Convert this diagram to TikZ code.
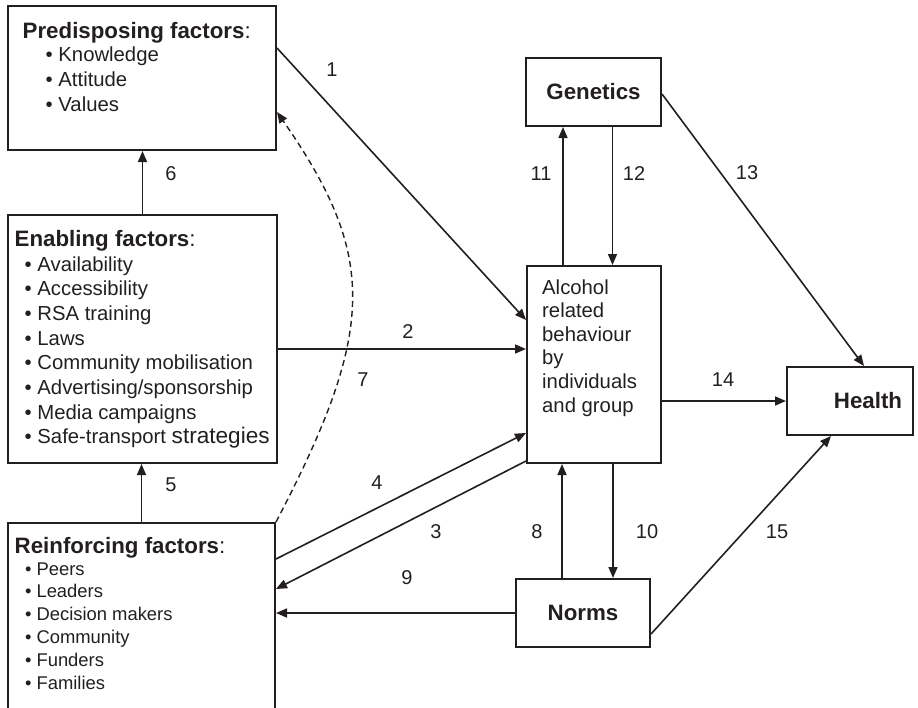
\documentclass[tikz,border=0pt]{standalone}
\usepackage{fontspec}
\setmainfont{Liberation Sans}
\usetikzlibrary{arrows.meta,calc}
\definecolor{ink}{HTML}{231F20}
\begin{document}
\begin{tikzpicture}[x=1pt,y=-1pt,
  box/.style={draw=ink, line width=2pt, rectangle, inner sep=0pt, text=ink,
    font=\fontsize{22.3}{26}\selectfont\bfseries},
  conn/.style={draw=ink, line width=1.6pt, -{Triangle[length=11pt,width=9pt]}},
  lbl/.style={font=\fontsize{20}{24}\selectfont, text=ink, inner sep=0pt},
  title/.style={font=\fontsize{22.3}{26}\selectfont\bfseries, text=ink, anchor=base west, inner sep=0pt},
  item/.style={font=\fontsize{20.3}{24}\selectfont, text=ink, anchor=base west, inner sep=0pt},
  smallitem/.style={font=\fontsize{18.4}{22}\selectfont, text=ink, anchor=base west, inner sep=0pt},
]
\useasboundingbox (0,0) rectangle (918,707);
\clip (0,0) rectangle (918,707);

% ---------- boxes ----------
\node[box, minimum width=268pt, minimum height=144pt] (pred) at (142,78) {};
\node[box, minimum width=269pt, minimum height=248pt] (en) at (142.5,339) {};
\node[box, minimum width=267pt, minimum height=217pt] (reinf) at (141.5,631.5) {};
\node[box, minimum width=135pt, minimum height=68pt] (gen) at (593.5,92) {Genetics};
\node[box, minimum width=134pt, minimum height=197pt] (alc) at (594,364.5) {};
\node[box, minimum width=134pt, minimum height=68pt] (norms) at (583,613) {Norms};
\node[box, minimum width=126pt, minimum height=68pt] (health) at (850,401) {};
\node[box, draw=none] (healthT) at (868,401) {Health};

% ---------- box texts ----------
\node[title] (predT) at (22.5,38) {Predisposing factors\textmd{:}};
\foreach \t [count=\i] in {Knowledge,Attitude,Values}
  \node[item] (pred\i) at (45.5,{61+25*(\i-1)}) {\textbullet\ \t};

\node[title] (enT) at (14.5,246) {Enabling factors\textmd{:}};
\foreach \t [count=\i] in {Availability,Accessibility,RSA training,Laws,
    Community mobilisation,Advertising/sponsorship,Media campaigns,
    Safe-transport {\fontsize{22.6}{24}\selectfont strategies}}
  \node[item] (en\i) at (24.5,{271+24.7*(\i-1)}) {\textbullet\ \t};

\node[title] (reinfT) at (14.5,553) {Reinforcing factors\textmd{:}};
\foreach \t [count=\i] in {Peers,Leaders,Decision makers,Community,Funders,Families}
  \node[smallitem] (reinf\i) at (24.8,{575+22.8*(\i-1)}) {\textbullet\ \t};

\foreach \t [count=\i] in {Alcohol,related,behaviour,by,individuals,and group}
  \node[item] (alc\i) at (542,{294+23.6*(\i-1)}) {\t};

% ---------- connectors ----------
\draw[conn] (en.north) -- (en.north |- pred.south);
\draw[conn] (reinf.north) -- (reinf.north |- en.south);
\draw[conn] ([yshift=30pt]pred.east) -- ([yshift=44.5pt]alc.west);
\draw[conn] ([yshift=-10pt]en.east) -- ([yshift=-10pt]en.east -| alc.west);
\draw[conn] ($(reinf.north east)+(0,37)$) -- ($(alc.south west)+(0,-31)$);
\draw[conn] ($(alc.south west)+(0,-3)$) -- ($(reinf.north east)+(0,67)$);
\draw[conn] (norms.west) -- (norms.west -| reinf.east);
\draw[conn] ([xshift=-21pt]norms.north) -- ([xshift=-21pt]norms.north |- alc.south);
\draw[conn] ([xshift=30pt]norms.north |- alc.south) -- ([xshift=30pt]norms.north);
\draw[conn] ([xshift=-31pt]alc.north) -- ([xshift=-31pt]alc.north |- gen.south);
\draw[conn] ([xshift=19pt]gen.south) -- ([xshift=19pt]gen.south |- alc.north);
\draw[conn] ([yshift=-2pt]gen.east) -- ([xshift=14pt]health.north);
\draw[conn] (alc.east |- health.west) -- (health.west);
\draw[conn] ($(norms.south east)+(0,-14)$) -- ($(health.south west)+(45,0)$);
\draw[conn, line width=1.4pt, dash pattern=on 6pt off 4pt] (reinf.north east)
  .. controls (377,329) and (377,256) .. ($(pred.north east)+(0,107)$);

% ---------- connector numbers ----------
\node[lbl] (n1) at (332,70) {1};
\node[lbl] (n2) at (408,332) {2};
\node[lbl] (n3) at (436,532) {3};
\node[lbl] (n4) at (377,483) {4};
\node[lbl] (n5) at (171,485) {5};
\node[lbl] (n6) at (171,174) {6};
\node[lbl] (n7) at (363,380) {7};
\node[lbl] (n8) at (537,532) {8};
\node[lbl] (n9) at (407,578) {9};
\node[lbl] (n10) at (647,532) {10};
\node[lbl] (n11) at (541,174) {11};
\node[lbl] (n12) at (634,174) {12};
\node[lbl] (n13) at (747,173) {13};
\node[lbl] (n14) at (723,380) {14};
\node[lbl] (n15) at (777,532) {15};
\end{tikzpicture}
\end{document}
